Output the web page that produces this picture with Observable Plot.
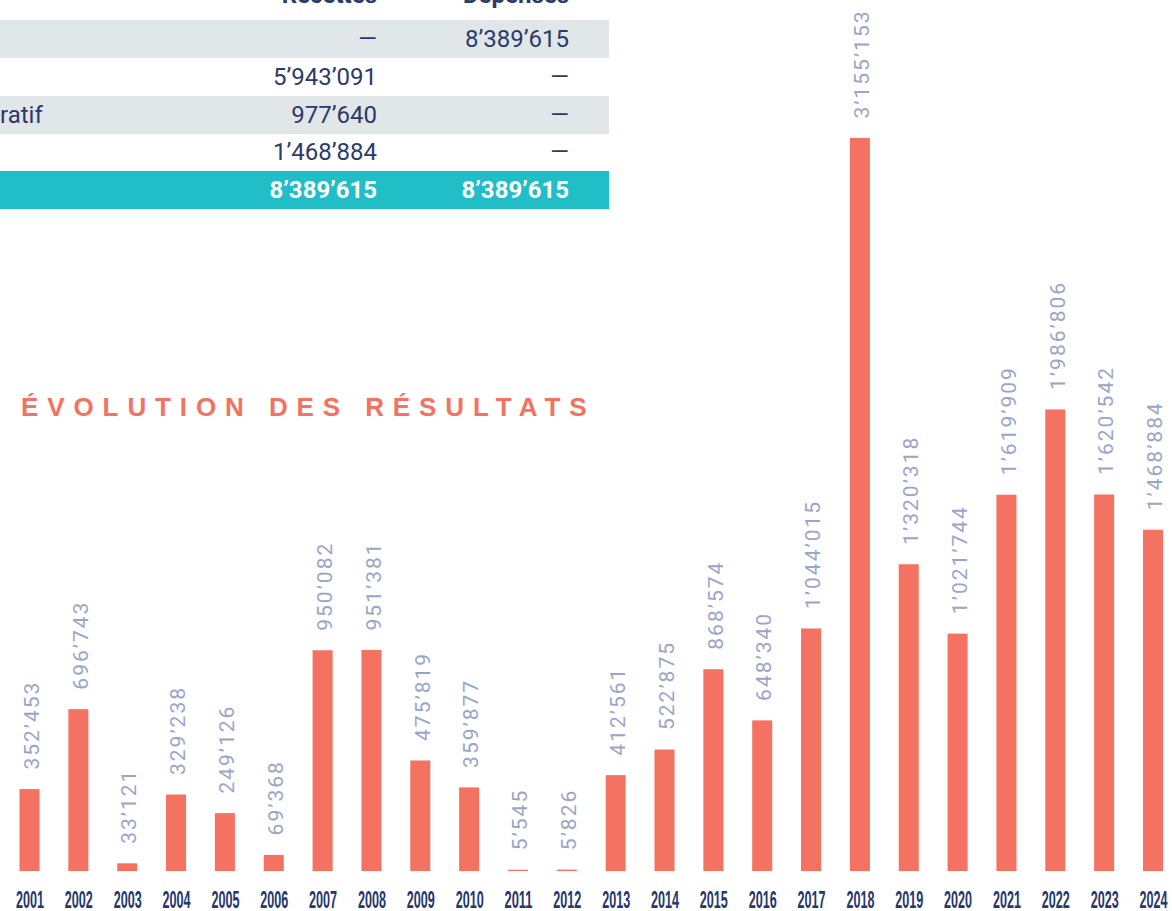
<!DOCTYPE html>
<html><head><meta charset="utf-8">
<script src="https://cdn.jsdelivr.net/npm/d3@7"></script>
<script src="https://cdn.jsdelivr.net/npm/@observablehq/plot@0.6"></script>
<style>
html,body{margin:0;padding:0;background:#fff;overflow:hidden}
#page{position:relative;width:1172px;height:911px;overflow:hidden}
#tbl{position:absolute;left:0;top:0;width:609px;font-family:Roboto,"Liberation Sans",sans-serif;font-size:24px;color:#2b3a6b}
.row{position:absolute;left:0;width:609px;height:38px;line-height:38px}
.row span{position:absolute;white-space:nowrap}
.c0{left:0}
.c1{right:232px;text-align:right}
.c2{right:40px;text-align:right}
.gray{background:#e1e6e9}
.teal{background:#22bec7;color:#fff;font-weight:700}
.hdr{font-weight:700}
#title{position:absolute;left:21px;top:392px;font-family:"Liberation Sans",Arial,sans-serif;font-weight:700;font-size:26px;letter-spacing:8.9px;color:#f37262;white-space:nowrap}
#chart{position:absolute;left:0;top:0}
</style></head>
<body><div id="page">
<div id="tbl"></div>
<div id="title">ÉVOLUTION DES RÉSULTATS</div>
<div id="chart"></div>
</div>
<script>
const years = ["2001","2002","2003","2004","2005","2006","2007","2008","2009","2010","2011","2012","2013","2014","2015","2016","2017","2018","2019","2020","2021","2022","2023","2024"];
const results = [352453,696743,33121,329238,249126,69368,950082,951381,475819,359877,5545,5826,412561,522875,868574,648340,1044015,3155153,1320318,1021744,1619909,1986806,1620542,1468884];

const tableHeader = ["", "Recettes", "Dépenses"];
const tableLabels = ["", "", "ratif", "", ""];
const tableRecettes = ["—", "5’943’091", "977’640", "1’468’884", "8’389’615"];
const tableDepenses = ["8’389’615", "—", "—", "—", "8’389’615"];

// table
const tbl = document.getElementById("tbl");
const hdr = document.createElement("div");
hdr.className = "row hdr";
hdr.style.top = "-24px";
hdr.innerHTML = `<span class="c0">${tableHeader[0]}</span><span class="c1">${tableHeader[1]}</span><span class="c2">${tableHeader[2]}</span>`;
tbl.appendChild(hdr);
tableLabels.forEach((lab, i) => {
  const r = document.createElement("div");
  r.className = "row " + (i === 4 ? "teal" : (i % 2 === 0 ? "gray" : ""));
  r.style.top = (20 + i * 37.8) + "px";
  r.innerHTML = `<span class="c0">${lab}</span><span class="c1">${tableRecettes[i]}</span><span class="c2">${tableDepenses[i]}</span>`;
  tbl.appendChild(r);
});

const data = years.map((y, i) => ({year: y, value: results[i]}));
const fmt = d3.formatLocale({decimal: ".", thousands: "’", grouping: [3], currency: ["", ""]}).format(",");

const plot = Plot.plot({
  width: 1172,
  height: 911,
  marginLeft: 19.5,
  marginRight: 9,
  marginTop: 138,
  marginBottom: 40,
  style: {background: "transparent", overflow: "visible"},
  x: {type: "band", domain: years, paddingInner: 0.59, paddingOuter: 0, round: false, axis: null},
  y: {domain: [0, 3155153], axis: null},
  marks: [
    Plot.barY(data, {x: "year", y: "value", fill: "#f37262"}),
    Plot.text(data, {x: "year", y: "value", text: d => fmt(d.value), rotate: -90, textAnchor: "start", lineAnchor: "middle", dy: -20, dx: 2, fill: "#9aa6c6", fontSize: 21, fontFamily: "Roboto", fontWeight: 400}),
    Plot.text(data, {x: "year", text: "year", frameAnchor: "bottom", lineAnchor: "middle", dy: 29, fill: "#26376b", fontSize: 24, fontWeight: 700, fontFamily: "'Liberation Sans', sans-serif"})
  ]
});
document.getElementById("chart").appendChild(plot);
d3.select(plot).selectAll("text").each(function() {
  const t = this.textContent;
  if (/^\d{4}$/.test(t)) {
    d3.select(this).attr("textLength", 28).attr("lengthAdjust", "spacingAndGlyphs");
  } else {
    d3.select(this).style("letter-spacing", "2px");
  }
});
</script>
</body></html>
